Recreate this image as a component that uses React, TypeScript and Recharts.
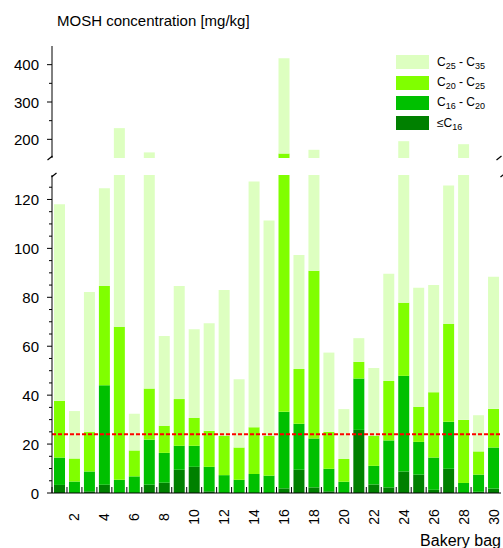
import React from 'react'
import { Bar, BarChart, Legend, ReferenceLine, XAxis, YAxis } from 'recharts'

// bakery bag numbers (categories)
const bags = [1, 2, 3, 4, 5, 6, 7, 8, 9, 10, 11, 12, 13, 14, 15, 16, 17, 18, 19, 20, 21, 22, 23, 24, 25, 26, 27, 28, 29, 30]

// MOSH fractions in mg/kg
const upToC16 = [3.3, 0, 0.7, 3.4, 0, 0, 3.4, 4.2, 9.5, 10.7, 0.7, 0, 0, 0, 0, 1.9, 9.5, 2.3, 0.7, 0, 25.8, 3.5, 2.3, 8.8, 7.5, 1.3, 9.9, 0, 0.5, 1.8]
const c16to20 = [11.2, 4.7, 8.1, 40.6, 5.4, 6.8, 18.4, 12.2, 9.8, 8.6, 10.0, 7.3, 5.4, 7.8, 7.1, 31.3, 18.8, 20.0, 9.2, 4.6, 21.0, 7.6, 19.2, 39.1, 13.4, 13.2, 19.2, 4.1, 7.0, 16.8]
const c20to25 = [23.2, 9.4, 16.1, 40.6, 62.6, 10.6, 20.9, 11.1, 19.1, 11.4, 14.7, 16.0, 13.2, 19.1, 16.2, 128.8, 22.4, 68.6, 15.1, 9.3, 6.8, 12.2, 24.3, 29.9, 14.3, 26.7, 40.0, 25.8, 9.5, 15.8]
const c25to35 = [80.3, 19.4, 57.3, 40.0, 162.0, 15.0, 122.3, 36.7, 46.2, 36.2, 44.0, 59.7, 27.9, 100.4, 88.1, 255.0, 46.6, 81.1, 32.4, 20.4, 9.7, 27.8, 43.8, 117.2, 48.7, 43.8, 56.6, 157.1, 14.8, 54.0]

const limit = 24

const upperDomain = [150, 450]
const upperTicks = [200, 250, 300, 350, 400]
const lowerDomain = [0, 130]
const lowerTicks = [0, 5, 10, 15, 20, 25, 30, 35, 40, 45, 50, 55, 60, 65, 70, 75, 80, 85, 90, 95, 100, 105, 110, 115, 120, 125]

const data = bags.map((bag, i) => ({
  bag,
  upToC16: upToC16[i],
  c16to20: c16to20[i],
  c20to25: c20to25[i],
  c25to35: c25to35[i],
}))

const FONT = '"Liberation Sans", Arial, sans-serif'

const series = [
  { key: 'upToC16', color: '#008000' },
  { key: 'c16to20', color: '#00c000' },
  { key: 'c20to25', color: '#80ff00' },
  { key: 'c25to35', color: '#ddffc0' },
]

// legend reads top to bottom: highest fraction first
const legendOrder = ['c25to35', 'c20to25', 'c16to20', 'upToC16']

const sub = (t: string) => (
  <span style={{ fontSize: 9, position: 'relative', top: 3 }}>{t}</span>
)

const legendLabels: Record<string, React.ReactNode> = {
  c25to35: <>C{sub('25')} - C{sub('35')}</>,
  c20to25: <>C{sub('20')} - C{sub('25')}</>,
  c16to20: <>C{sub('16')} - C{sub('20')}</>,
  upToC16: <>{'\u2264'}C{sub('16')}</>,
}

const renderLegend = (props: any) => {
  const items = [...(props.payload || [])].sort(
    (a: any, b: any) => legendOrder.indexOf(a.dataKey) - legendOrder.indexOf(b.dataKey)
  )
  return (
    <div style={{ fontFamily: FONT }}>
      {items.map((entry: any) => (
        <div key={entry.dataKey} style={{ display: 'flex', alignItems: 'center', height: 20.4 }}>
          <span style={{ display: 'inline-block', width: 33, height: 14, background: entry.color }} />
          <span style={{ marginLeft: 8, fontSize: 12, color: '#000', lineHeight: '14px' }}>
            {legendLabels[entry.dataKey]}
          </span>
        </div>
      ))}
    </div>
  )
}

const leftTick = (majorStep: number) => (props: any) => {
  const { x, y, payload } = props
  const major = payload.value % majorStep === 0
  return (
    <g>
      <line x1={x - (major ? 5 : 3)} x2={x} y1={y} y2={y} stroke="#000" />
      {major && (
        <text x={x - 13} y={y} textAnchor="end" dominantBaseline="central" fontSize={15} fill="#000" fontFamily={FONT}>
          {payload.value}
        </text>
      )}
    </g>
  )
}

const rightTick = (majorStep: number) => (props: any) => {
  const { x, y, payload } = props
  const major = payload.value % majorStep === 0
  return <line x1={x} x2={x - (major ? 5 : 3)} y1={y} y2={y} stroke="#000" />
}

const BagTick = (props: any) => {
  const { x, y, payload } = props
  const half = 7.48
  const ly = y + 24
  return (
    <g>
      <line x1={x - half} x2={x - half} y1={y} y2={y - 6} stroke="#000" />
      {payload.value % 2 === 0 && (
        <text
          x={x}
          y={ly}
          transform={`rotate(-90, ${x}, ${ly})`}
          textAnchor="middle"
          dominantBaseline="central"
          fontSize={14}
          fill="#000"
          fontFamily={FONT}
        >
          {payload.value}
        </text>
      )}
    </g>
  )
}

const bars = series.map((s) => (
  <Bar key={s.key} dataKey={s.key} stackId="a" fill={s.color} isAnimationActive={false} />
))

export default function App() {
  return (
    <div style={{ position: 'absolute', left: 0, top: 0, width: 503, height: 548, background: '#fff', fontFamily: FONT }}>
      <div style={{ position: 'absolute', left: 57, top: 12, fontSize: 15, color: '#000', whiteSpace: 'nowrap' }}>
        MOSH concentration [mg/kg]
      </div>

      {/* upper panel, 150 - 450 */}
      <div style={{ position: 'absolute', left: 0, top: 0 }}>
        <BarChart width={503} height={158} data={data} margin={{ top: 46, right: 2, bottom: 0, left: 0 }} barSize={11}>
          <XAxis dataKey="bag" orientation="top" height={0} tick={false} tickLine={false} axisLine={{ stroke: '#000' }} />
          <YAxis
            domain={upperDomain}
            ticks={upperTicks}
            allowDataOverflow
            interval={0}
            width={52}
            tickSize={0}
            tickMargin={0}
            tickLine={false}
            axisLine={{ stroke: '#000' }}
            tick={leftTick(100)}
          />
          <YAxis
            yAxisId="r"
            orientation="right"
            domain={upperDomain}
            ticks={upperTicks}
            allowDataOverflow
            interval={0}
            width={0}
            tickSize={0}
            tickMargin={0}
            tickLine={false}
            axisLine={{ stroke: '#000' }}
            tick={rightTick(100)}
          />
          {bars}
          <Legend
            layout="horizontal"
            verticalAlign="middle"
            align="center"
            content={renderLegend}
            wrapperStyle={{ position: 'absolute', top: 52, left: 396, width: 107 }}
          />
        </BarChart>
      </div>

      {/* lower panel, 0 - 130 */}
      <div style={{ position: 'absolute', left: 0, top: 160 }}>
        <BarChart width={503} height={388} data={data} margin={{ top: 15, right: 2, bottom: 0, left: 0 }} barSize={11}>
          <XAxis
            dataKey="bag"
            height={55}
            interval={0}
            tickSize={0}
            tickMargin={0}
            tickLine={false}
            axisLine={{ stroke: '#000' }}
            tick={BagTick}
            label={{
              content: (p: any) => {
                const vb = p.viewBox || { x: 52, y: 333, width: 449 }
                return (
                  <text x={vb.x + vb.width} y={vb.y + 53} textAnchor="end" fontSize={16} fill="#000" fontFamily={FONT}>
                    Bakery bag
                  </text>
                )
              },
            }}
          />
          <YAxis
            domain={lowerDomain}
            ticks={lowerTicks}
            allowDataOverflow
            interval={0}
            width={52}
            tickSize={0}
            tickMargin={0}
            tickLine={false}
            axisLine={{ stroke: '#000' }}
            tick={leftTick(20)}
          />
          <YAxis
            yAxisId="r"
            orientation="right"
            domain={lowerDomain}
            ticks={lowerTicks}
            allowDataOverflow
            interval={0}
            width={0}
            tickSize={0}
            tickMargin={0}
            tickLine={false}
            axisLine={{ stroke: '#000' }}
            tick={rightTick(20)}
          />
          {bars}
          <ReferenceLine y={limit} stroke="#ff0000" strokeWidth={2} strokeDasharray="4 2" />
        </BarChart>
      </div>

      {/* axis break marks */}
      <svg width={503} height={548} style={{ position: 'absolute', left: 0, top: 0, pointerEvents: 'none' }}>
        <g stroke="#000" strokeWidth={1.3} fill="none">
          <path d="M52.5,156 L47.5,160" />
          <path d="M56.5,173 L51.5,177" />
          <path d="M501.5,156 L496.5,160" />
          <path d="M505.5,173 L500.5,177" />
        </g>
      </svg>
    </div>
  )
}
